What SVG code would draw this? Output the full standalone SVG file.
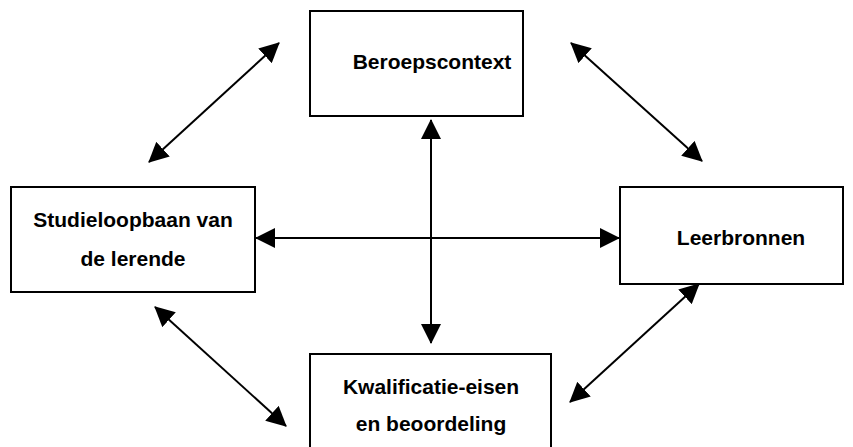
<svg xmlns="http://www.w3.org/2000/svg" width="853" height="447" viewBox="0 0 853 447">
<style>
.box{fill:#fff;stroke:#000;stroke-width:2}
.t{font-family:"Liberation Sans",Arial,sans-serif;font-weight:bold;font-size:21px;fill:#000;text-anchor:middle}
.c{stroke:#000;stroke-width:2;fill:none;marker-start:url(#ah);marker-end:url(#ah)}
</style>
<defs>
<marker id="ah" markerUnits="userSpaceOnUse" markerWidth="20" markerHeight="20" viewBox="0 0 20 20" refX="19" refY="10" orient="auto-start-reverse">
<path d="M0,0 L20,10 L0,20 z" fill="#000"/>
</marker>
</defs>
<g id="connectors">
<line class="c" x1="431" y1="120" x2="431" y2="343"/>
<line class="c" x1="256" y1="238" x2="619" y2="238"/>
<line class="c" x1="149" y1="162" x2="279" y2="43"/>
<line class="c" x1="571" y1="43" x2="702" y2="161"/>
<line class="c" x1="155" y1="307" x2="286" y2="426"/>
<line class="c" x1="699" y1="284" x2="570" y2="402"/>
</g>
<g id="beroepscontext">
<rect class="box" x="310" y="11" width="213" height="105"/>
<text class="t" x="432" y="69">Beroepscontext</text>
</g>
<g id="studieloopbaan">
<rect class="box" x="11" y="187" width="244" height="105"/>
<text class="t" x="133" y="227">Studieloopbaan van</text>
<text class="t" x="133" y="266">de lerende</text>
</g>
<g id="leerbronnen">
<rect class="box" x="620" y="187" width="223" height="97"/>
<text class="t" x="741" y="245">Leerbronnen</text>
</g>
<g id="kwalificatie">
<rect class="box" x="310" y="354" width="241" height="110"/>
<text class="t" x="431" y="394">Kwalificatie-eisen</text>
<text class="t" x="431" y="431">en beoordeling</text>
</g>
</svg>
